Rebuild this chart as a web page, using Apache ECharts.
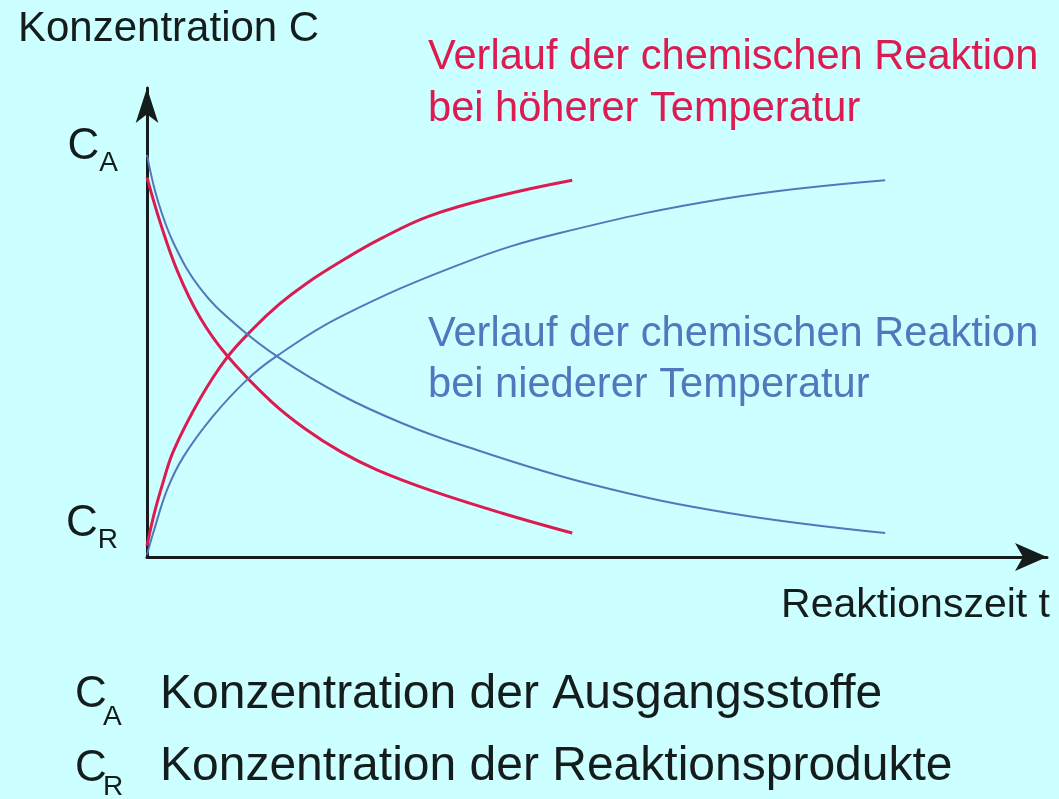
<!DOCTYPE html>
<html>
<head>
<meta charset="utf-8">
<title>Konzentration und Reaktionszeit</title>
<script src="https://cdn.jsdelivr.net/npm/echarts@6.0.0/dist/echarts.min.js"></script>
<style>
    html, body { margin: 0; padding: 0; background: #ccffff; }
    #chart { width: 1059px; height: 799px; }
</style>
</head>
<body>
<div id="chart"></div>
<script>
    // Zeitachse und Konzentrationsachse in willkürlichen Einheiten

    // Ausgangsstoffe, höhere Temperatur (rot, fallend)
    var hotAT = [0.00, 0.15, 0.35, 0.60, 0.90, 1.40, 1.80, 2.20, 2.60, 3.20, 4.00, 4.81];
    var hotAC = [8.40, 7.40, 6.30, 5.30, 4.47, 3.45, 2.82, 2.32, 1.93, 1.48, 0.98, 0.53];

    // Reaktionsprodukte, höhere Temperatur (rot, steigend)
    var hotRT = [0.00, 0.08, 0.18, 0.30, 0.60, 0.90, 1.20, 1.50, 1.80, 2.20, 2.65, 3.20, 4.00, 4.81];
    var hotRC = [0.25, 0.95, 1.64, 2.35, 3.50, 4.40, 5.05, 5.60, 6.05, 6.55, 7.05, 7.55, 8.00, 8.34];

    // Ausgangsstoffe, niedere Temperatur (blau, fallend)
    var coldAT = [0.00, 0.12, 0.30, 0.60, 1.00, 1.50, 2.20, 2.90, 3.60, 5.00, 6.56, 8.35];
    var coldAC = [8.90, 7.90, 6.95, 5.95, 5.15, 4.40, 3.58, 2.95, 2.45, 1.62, 0.98, 0.53];

    // Reaktionsprodukte, niedere Temperatur (blau, steigend)
    var coldRT = [0.00, 0.07, 0.23, 0.41, 0.74, 1.13, 1.47, 2.18, 3.57, 4.67, 6.56, 8.35];
    var coldRC = [0.05, 0.53, 1.50, 2.21, 3.10, 3.92, 4.45, 5.31, 6.50, 7.17, 7.94, 8.34];

    // Lage der Achsenbeschriftungen C_A und C_R
    var yLabelValues = [8.99, 0.64];
    var yLabelNames = ["A", "R"];

    var RED = "#dc1c50";
    var BLUE = "#5178bd";
    var INK = "#141c1c";
    var FONT = "'Liberation Sans', Arial, sans-serif";

    function pairs(xs, ys) {
        var out = [];
        for (var i = 0; i < xs.length; i++) {
            out.push([xs[i], ys[i]]);
        }
        return out;
    }

    function curve(name, xs, ys, color, width) {
        return {
            name: name,
            type: 'line',
            smooth: 0.4,
            showSymbol: false,
            silent: true,
            lineStyle: { color: color, width: width },
            data: pairs(xs, ys)
        };
    }

    function text(str, x, y, size, color, align) {
        return {
            type: 'text',
            x: x,
            y: y,
            style: {
                text: str,
                fill: color,
                font: size + 'px ' + FONT,
                align: align || 'left',
                verticalAlign: 'middle'
            }
        };
    }

    var chart = echarts.init(document.getElementById('chart'));

    var option = {
        backgroundColor: '#ccffff',
        animation: false,
        grid: { left: 147, right: 12, top: 88, bottom: 242 },
        xAxis: {
            type: 'value',
            min: 0,
            max: 10.18,
            axisLine: {
                lineStyle: { color: INK, width: 3 },
                symbol: ['none', 'arrow'],
                symbolSize: [21, 32]
            },
            axisTick: { show: false },
            axisLabel: { show: false },
            splitLine: { show: false }
        },
        yAxis: {
            type: 'value',
            min: 0,
            max: 10.38,
            axisLine: {
                show: true,
                lineStyle: { color: INK, width: 3 },
                symbol: ['none', 'arrow'],
                symbolSize: [17, 35]
            },
            axisTick: { show: false },
            splitLine: { show: false },
            axisLabel: {
                customValues: yLabelValues,
                margin: 29,
                formatter: function (v) {
                    var idx = yLabelValues.indexOf(v);
                    return '{c|C}{s|' + yLabelNames[idx] + '}';
                },
                rich: {
                    c: { fontFamily: FONT, fontSize: 44, color: INK, lineHeight: 40, verticalAlign: 'top' },
                    s: { fontFamily: FONT, fontSize: 28, color: INK, lineHeight: 52, verticalAlign: 'bottom' }
                }
            }
        },
        series: [
            curve('hotA', hotAT, hotAC, RED, 3),
            curve('hotR', hotRT, hotRC, RED, 3),
            curve('coldA', coldAT, coldAC, BLUE, 2),
            curve('coldR', coldRT, coldRC, BLUE, 2)
        ],
        graphic: [
            text('Konzentration C', 18, 29, 42, INK),
            text('Verlauf der chemischen Reaktion', 428, 58, 41.6, RED),
            text('bei höherer Temperatur', 428, 110, 41.6, RED),
            text('Verlauf der chemischen Reaktion', 428, 335, 41.6, BLUE),
            text('bei niederer Temperatur', 428, 386, 41.6, BLUE),
            text('Reaktionszeit t', 1050, 606, 41, INK, 'right'),
            text('C', 75, 695, 44, INK),
            text('A', 103, 717, 28, INK),
            text('Konzentration der Ausgangsstoffe', 160, 695, 48, INK),
            text('C', 75, 769, 44, INK),
            text('R', 103, 787, 28, INK),
            text('Konzentration der Reaktionsprodukte', 160, 767, 48, INK)
        ]
    };

    chart.setOption(option);
</script>
</body>
</html>
